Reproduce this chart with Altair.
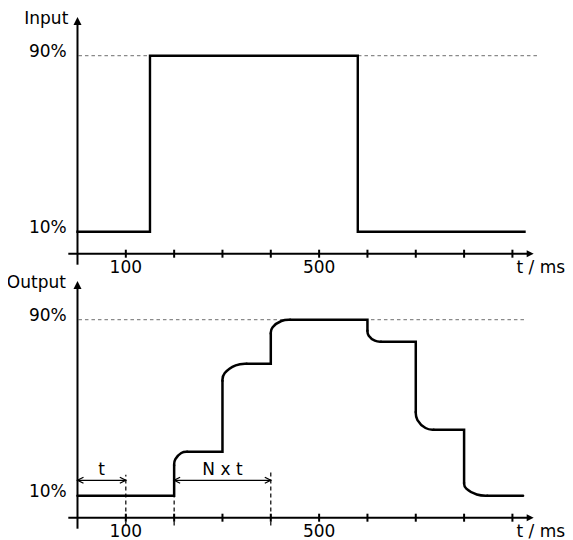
import altair as alt
import pandas as pd

# ---------------- data ----------------
panel_names = ["Input", "Output"]
panel_offset = [120, 0]          # vertical stacking of the two panels (same % scale)
x_unit_label = "t / ms"

tick_ms = [100, 200, 300, 400, 500, 600, 700, 800, 900]
tick_label_ms = [100, 500]
tick_label_text = ["100", "500"]

level_pct = [10, 90]
level_text = ["10%", "90%"]
dotted_end_ms = [957, 925]       # 90% guide end, input / output

input_t = [0, 150, 150, 580, 580, 925]
input_level = [10, 10, 90, 90, 10, 10]

output_step_t = [200, 300, 400, 600, 700, 800]
output_level = [10, 30, 70, 90, 80, 40, 10]
output_knee_ms = [27, 50, 40, 28, 37, 48]       # width of the rounded corner
output_knee_pct = [6.2, 7.8, 6.3, 5.0, 8.0, 5.8]  # height of the rounded corner
output_end_t = 922

dashed_t = [100, 200, 400]
dashed_top = [19.5, 10, 20.5]
interval_start = [0, 200]
interval_end = [100, 400]
interval_text = ["t", "N x t"]
interval_level = 17

# ---------------- geometry of the frame ----------------
TMIN, TMAX = -143.8, 1008.8
VMIN, VMAX = -10.14, 231.68
FONT = "DejaVu Sans"
FS = 17
ROUND = 0.57   # control-polygon inset for a circular-looking corner

xs = alt.Scale(domain=[TMIN, TMAX], nice=False, zero=False)
ys = alt.Scale(domain=[VMIN, VMAX], nice=False, zero=False)
X = alt.X("t:Q", scale=xs, axis=None)
Y = alt.Y("v:Q", scale=ys, axis=None)

# axes
hax = pd.DataFrame({"t": [-19] * 2, "t2": [938] * 2, "v": panel_offset})
vax = pd.DataFrame({"t": [0] * 2, "v": [o - 5 for o in panel_offset],
                    "v2": [o + 104 for o in panel_offset]})
ticks = pd.DataFrame([{"t": t, "v": o} for o in panel_offset for t in tick_ms])
yarrow = pd.DataFrame({"t": [0] * 2, "v": [o + 107.6 for o in panel_offset]})
xarrow = pd.DataFrame({"t": [944] * 2, "v": panel_offset})

# dotted 90% guides
dotted = pd.DataFrame({"t": [2, 2], "t2": dotted_end_ms,
                       "v": [o + 90 for o in panel_offset]})

# input line
inp = pd.DataFrame({"t": input_t, "v": [l + panel_offset[0] for l in input_level],
                    "o": list(range(len(input_t)))})

# output path: straight parts and rounded corners (B-spline control polygons)
lin_rows, knee_rows = [], []
prev_t = 0
for i, ts in enumerate(output_step_t):
    a, b = output_level[i], output_level[i + 1]
    s = 1 if b > a else -1
    dt, dv = output_knee_ms[i], output_knee_pct[i]
    kv = b - s * dv
    for j, (t, v) in enumerate([(prev_t, a), (ts, a), (ts, kv)]):
        lin_rows.append({"seg": i, "o": j, "t": t, "v": v})
    ctrl = [(ts, kv), (ts, b - s * dv * ROUND), (ts + dt * ROUND, b), (ts + dt, b)]
    for j, (t, v) in enumerate(ctrl):
        knee_rows.append({"seg": i, "o": j, "t": t, "v": v})
    prev_t = ts + dt
for j, (t, v) in enumerate([(prev_t, output_level[-1]), (output_end_t, output_level[-1])]):
    lin_rows.append({"seg": 99, "o": j, "t": t, "v": v})
lin = pd.DataFrame(lin_rows)
knee = pd.DataFrame(knee_rows)

dashed = pd.DataFrame({"t": dashed_t, "v": [-3.5] * 3, "v2": dashed_top})
intervals = pd.DataFrame({"t": interval_start, "t2": interval_end,
                          "v": [interval_level] * 2})
ileft = pd.DataFrame({"t": interval_start, "v": [interval_level] * 2})
iright = pd.DataFrame({"t": interval_end, "v": [interval_level] * 2})

# texts
right_txt = pd.DataFrame(
    [{"t": -19, "v": o + 104.5, "txt": n} for n, o in zip(panel_names, panel_offset)] +
    [{"t": -22.3, "v": o + l - 0.5, "txt": lt} for o in panel_offset
     for l, lt in zip(level_pct, level_text)]
)
right_txt.loc[1, "t"] = -24
center_txt = pd.DataFrame(
    [{"t": t, "v": o - 9.0, "txt": s} for o in panel_offset
     for t, s in zip(tick_label_ms, tick_label_text)] +
    [{"t": (a + b) / 2, "v": interval_level + 2.3, "txt": s}
     for a, b, s in zip(interval_start, interval_end, interval_text)]
)
left_txt = pd.DataFrame({"t": [908.5] * 2, "v": [o - 9.0 for o in panel_offset],
                         "txt": [x_unit_label] * 2})

layers = [
    alt.Chart(dotted).mark_rule(color="#8a8a8a", strokeWidth=1.2, strokeDash=[3.5, 3])
       .encode(x=X, x2="t2:Q", y=Y),
    alt.Chart(hax).mark_rule(color="black", strokeWidth=2).encode(x=X, x2="t2:Q", y=Y),
    alt.Chart(vax).mark_rule(color="black", strokeWidth=2).encode(x=X, y=Y, y2="v2:Q"),
    alt.Chart(ticks).mark_point(shape="M0,-1L0,1", size=64, filled=False, color="black",
                                strokeWidth=2, opacity=1).encode(x=X, y=Y),
    alt.Chart(yarrow).mark_point(shape="M0,0L1,2L-1,2Z", size=64, filled=True, color="black",
                                 opacity=1).encode(x=X, y=Y),
    alt.Chart(xarrow).mark_point(shape="M0,0L-2,-1L-2,1Z", size=49, filled=True, color="black",
                                 opacity=1).encode(x=X, y=Y),
    alt.Chart(dashed).mark_rule(color="black", strokeWidth=1.2, strokeDash=[4, 3])
       .encode(x=X, y=Y, y2="v2:Q"),
    alt.Chart(intervals).mark_rule(color="black", strokeWidth=1.3).encode(x=X, x2="t2:Q", y=Y),
    alt.Chart(ileft).mark_point(shape="M2,-1L0,0L2,1", size=36, filled=False, color="black",
                                strokeWidth=1.3, opacity=1).encode(x=X, y=Y),
    alt.Chart(iright).mark_point(shape="M-2,-1L0,0L-2,1", size=36, filled=False, color="black",
                                 strokeWidth=1.3, opacity=1).encode(x=X, y=Y),
    alt.Chart(inp).mark_line(color="black", strokeWidth=2.4, strokeJoin="miter",
                             strokeCap="square").encode(x=X, y=Y, order="o:Q"),
    alt.Chart(lin).mark_line(color="black", strokeWidth=2.5, strokeJoin="miter",
                             strokeCap="round").encode(x=X, y=Y, detail="seg:N", order="o:Q"),
    alt.Chart(knee).mark_line(color="black", strokeWidth=2.5, interpolate="basis",
                              strokeCap="round").encode(x=X, y=Y, detail="seg:N", order="o:Q"),
    alt.Chart(right_txt).mark_text(align="right", baseline="alphabetic", font=FONT,
                                   fontSize=FS, color="black").encode(x=X, y=Y, text="txt:N"),
    alt.Chart(center_txt).mark_text(align="center", baseline="alphabetic", font=FONT,
                                    fontSize=FS, color="black").encode(x=X, y=Y, text="txt:N"),
    alt.Chart(left_txt).mark_text(align="left", baseline="alphabetic", font=FONT,
                                  fontSize=FS, color="black").encode(x=X, y=Y, text="txt:N"),
]

chart = (
    alt.layer(*layers)
    .properties(width=557, height=532, padding=0,
                autosize=alt.AutoSizeParams(type="none"), background="white")
    .configure_view(stroke=None)
)

chart.save("out.html", embed_options={"renderer": "svg", "actions": False})
